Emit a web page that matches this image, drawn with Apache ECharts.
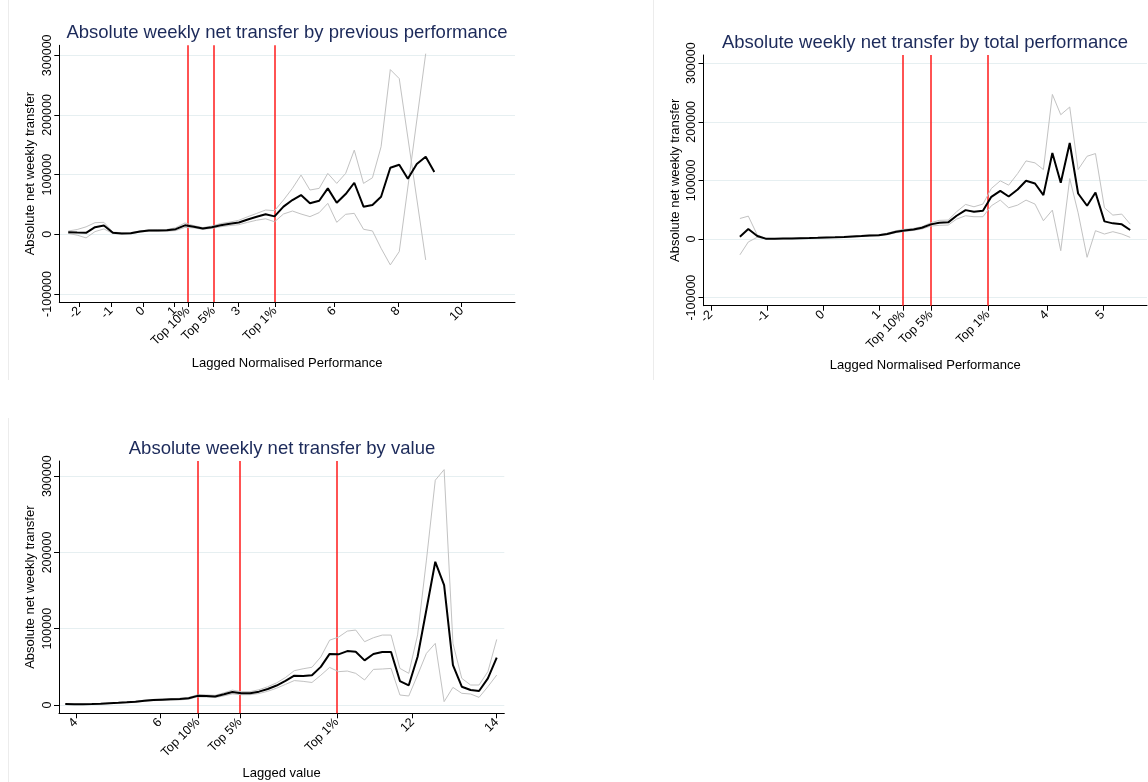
<!DOCTYPE html>
<html>
<head>
<meta charset="utf-8">
<script src="https://cdn.jsdelivr.net/npm/echarts@6/dist/echarts.min.js"></script>
<style>
  html, body { margin: 0; padding: 0; background: #ffffff; }
  #chart { width: 1148px; height: 782px; }
</style>
</head>
<body>
<div id="chart"></div>
<script>
// ---- Panel 1: by previous performance ----
const prevX = [-2.34, -2.06, -1.78, -1.50, -1.22, -0.94, -0.66, -0.38, -0.09, 0.19, 0.47, 0.75, 1.03, 1.32, 1.60, 1.88, 2.16, 2.44, 2.73, 3.01, 3.29, 3.57, 3.85, 4.13, 4.41, 4.69, 4.96, 5.24, 5.53, 5.80, 6.08, 6.36, 6.63, 6.92, 7.20, 7.47, 7.76, 8.04, 8.31, 8.59, 8.87, 9.14];
const prevMean = [3500, 2800, 2500, 11900, 14700, 2500, 1500, 1800, 4500, 6400, 6500, 6600, 8600, 15000, 12600, 9700, 11900, 15300, 17600, 19800, 24800, 29300, 33500, 30000, 46300, 57400, 65800, 51900, 56300, 77000, 53000, 67500, 86400, 46300, 49100, 63000, 111500, 116600, 93100, 117700, 130000, 104300];
const prevHi = [5500, 8000, 12500, 19500, 20000, 3800, 2500, 2800, 5500, 7500, 7800, 8000, 11000, 19000, 14500, 11200, 13800, 18000, 20500, 23500, 29500, 35000, 40700, 39600, 57400, 77000, 99300, 74200, 77000, 102100, 85300, 102100, 141100, 85300, 94800, 146700, 276100, 261000, null, null, -43000, null];
const prevLo = [1500, -1500, -6000, 4500, 9000, 1300, 600, 900, 3500, 5300, 5200, 5200, 6200, 11500, 10700, 8200, 10000, 12600, 14700, 16100, 20100, 23600, 26000, 21000, 34000, 39000, 34000, 29600, 36300, 51900, 20100, 33500, 35100, 8400, 5600, -23400, -51300, -29000, null, null, 302800, null];
const prevTicks = [-2, -1, 0, 1, 3, 6, 8, 10];
const prevCuts = [1.41, 2.21, 4.14];

// ---- Panel 2: by total performance ----
const totX = [-1.48, -1.33, -1.17, -1.02, -0.86, -0.71, -0.55, -0.40, -0.24, -0.09, 0.07, 0.22, 0.38, 0.53, 0.69, 0.84, 1.00, 1.15, 1.31, 1.46, 1.62, 1.77, 1.93, 2.08, 2.24, 2.39, 2.55, 2.70, 2.86, 3.01, 3.17, 3.32, 3.48, 3.63, 3.79, 3.94, 4.10, 4.25, 4.41, 4.56, 4.72, 4.87, 5.03, 5.18, 5.34, 5.49];
const totMean = [4000, 17000, 5100, 600, 400, 700, 1000, 1500, 1800, 2200, 2700, 3000, 3400, 4200, 5000, 6000, 6600, 8500, 12500, 14700, 16400, 19300, 25000, 27800, 28400, 39700, 49300, 46500, 48200, 72000, 82200, 72600, 84500, 99300, 94700, 74900, 146900, 95900, 163900, 77700, 56700, 79400, 30100, 26700, 25000, 15300];
const totHi = [35000, 39000, 7000, 1000, 700, 1000, 1300, 1800, 2100, 2600, 3100, 3400, 3900, 4800, 5700, 6900, 7600, 9800, 14200, 16400, 18100, 21000, 27800, 31800, 32300, 46500, 59000, 55000, 59600, 86200, 99300, 91900, 111700, 133300, 129900, 118500, 246700, 212100, 225200, 118500, 141200, 145800, 53300, 40800, 42500, 25500];
const totLo = [-27000, -5000, 3000, 200, 100, 400, 700, 1200, 1500, 1800, 2300, 2600, 2900, 3600, 4300, 5100, 5600, 7200, 10800, 13000, 14700, 17000, 22100, 23300, 23800, 34000, 39700, 38000, 38000, 56700, 66400, 53300, 57900, 66400, 59600, 31200, 49300, -19900, 103200, 44800, -31200, 14200, 8500, 12500, 8500, 2800];
const totTicks = [-2, -1, 0, 1, 4, 5];
const totCuts = [1.43, 1.93, 2.95];

// ---- Panel 3: by value ----
const valX = [3.75, 3.96, 4.17, 4.38, 4.59, 4.80, 5.01, 5.21, 5.42, 5.63, 5.84, 6.05, 6.26, 6.47, 6.68, 6.89, 7.10, 7.31, 7.52, 7.72, 7.93, 8.14, 8.35, 8.56, 8.77, 8.98, 9.19, 9.40, 9.61, 9.82, 10.03, 10.24, 10.45, 10.65, 10.86, 11.07, 11.28, 11.49, 11.70, 11.91, 12.12, 12.33, 12.54, 12.75, 12.96, 13.17, 13.38, 13.58, 13.79, 14.00];
const valMean = [1300, 1100, 1000, 1200, 1600, 2200, 2800, 3500, 4400, 5600, 6500, 7000, 7400, 7700, 8800, 12000, 11800, 11200, 14000, 17000, 15500, 15500, 17500, 21000, 25500, 31500, 38500, 38000, 39000, 50000, 67000, 66400, 70700, 69900, 58500, 66800, 69400, 69400, 31400, 25800, 63300, 125300, 187800, 157200, 52400, 24000, 19700, 18300, 34900, 62000];
const valHi = [1600, 1400, 1300, 1500, 1900, 2500, 3200, 4000, 5000, 6300, 7300, 7900, 8300, 8700, 10000, 13300, 13200, 12700, 16000, 19500, 17500, 17500, 20000, 24000, 29000, 36000, 45000, 47500, 49500, 63000, 85000, 89000, 96900, 98300, 83000, 88200, 91700, 91700, 48000, 41500, 92000, 190000, 294800, 308700, 80800, 34900, 26200, 26200, 43700, 86000];
const valLo = [1000, 800, 700, 900, 1300, 1900, 2400, 3000, 3800, 4900, 5700, 6100, 6500, 6700, 7600, 10700, 10400, 9700, 12000, 14500, 13500, 13500, 15000, 18000, 22000, 27000, 32000, 31000, 29500, 39000, 49300, 43700, 44500, 41500, 32800, 46700, 47200, 48000, 13100, 11800, 39300, 67700, 80800, 4400, 23100, 15300, 14400, 10000, 24000, 39300];
const valTicks = [4, 6, 12, 14];
const valCuts = [6.90, 7.90, 10.20];

// ---- Shared labels ----
const cutLabels = ['Top 10%', 'Top 5%', 'Top 1%'];
const yTicksFull = [-100000, 0, 100000, 200000, 300000];
const yTicksPos = [0, 100000, 200000, 300000];
const yName = 'Absolute net weekly transfer';

const FONT = '"Liberation Sans", Arial, Helvetica, sans-serif';
const TITLE_COLOR = '#1c2a5a';
const GRID_COLOR = '#e6eff1';
const CI_COLOR = '#c2c2c2';
const CUT_COLOR = '#ff1a1a';
const FRAME_COLOR = '#ececec';

// Panel layout: plot boxes in pixels, axis ranges, title anchors, outer frame edge
const panels = [
  {
    title: 'Absolute weekly net transfer by previous performance',
    xName: 'Lagged Normalised Performance',
    x: prevX, mean: prevMean, hi: prevHi, lo: prevLo, ticks: prevTicks, cuts: prevCuts, yTicks: yTicksFull,
    box: { left: 59.3, top: 45.3, width: 455.7, height: 256.7 },
    xMin: -2.62, xMax: 11.67, yMin: -113500, yMax: 316800,
    titleX: 287, titleY: 32.3, yGap: 22, xGap: 55,
    frame: { x: 8.5, y1: 0, y2: 380 }
  },
  {
    title: 'Absolute weekly net transfer by total performance',
    xName: 'Lagged Normalised Performance',
    x: totX, mean: totMean, hi: totHi, lo: totLo, ticks: totTicks, cuts: totCuts, yTicks: yTicksFull,
    box: { left: 703.5, top: 55, width: 443.5, height: 250.7 },
    xMin: -2.13, xMax: 5.79, yMin: -113800, yMax: 314000,
    titleX: 925, titleY: 42.7, yGap: 21.5, xGap: 53.5,
    frame: { x: 653.5, y1: 0, y2: 380 }
  },
  {
    title: 'Absolute weekly net transfer by value',
    xName: 'Lagged value',
    x: valX, mean: valMean, hi: valHi, lo: valLo, ticks: valTicks, cuts: valCuts, yTicks: yTicksPos,
    box: { left: 59, top: 461, width: 445.3, height: 252.3 },
    xMin: 3.60, xMax: 14.18, yMin: -10900, yMax: 320000,
    titleX: 282, titleY: 448, yGap: 22.5, xGap: 53.5,
    frame: { x: 8.5, y1: 418, y2: 782 }
  }
];

const pairs = (xs, ys) => xs.map((v, i) => [v, ys[i]]);

const option = {
  animation: false,
  backgroundColor: '#ffffff',
  textStyle: { fontFamily: FONT },
  title: [],
  grid: [],
  xAxis: [],
  yAxis: [],
  series: [],
  graphic: []
};

panels.forEach((p, i) => {
  // faint left edge of each sub-graph's canvas
  option.graphic.push({
    type: 'line', silent: true, z: -1,
    shape: { x1: p.frame.x, y1: p.frame.y1, x2: p.frame.x, y2: p.frame.y2 },
    style: { stroke: FRAME_COLOR, lineWidth: 1 }
  });

  option.title.push({
    text: p.title,
    left: p.titleX,
    top: p.titleY - 9,
    textAlign: 'center',
    padding: 0,
    textStyle: { fontFamily: FONT, fontSize: 18.5, fontWeight: 'normal', color: TITLE_COLOR }
  });

  option.grid.push({
    left: p.box.left, top: p.box.top, width: p.box.width, height: p.box.height,
    containLabel: false, show: false
  });

  const tickValues = p.ticks.concat(p.cuts).sort((a, b) => a - b);
  const cutLabelOf = (v) => {
    const k = p.cuts.findIndex(c => Math.abs(c - v) < 1e-9);
    return k >= 0 ? cutLabels[k] : String(v);
  };

  option.xAxis.push({
    type: 'value', gridIndex: i, min: p.xMin, max: p.xMax,
    name: p.xName, nameLocation: 'middle', nameGap: p.xGap,
    nameTextStyle: { fontFamily: FONT, fontSize: 13, color: '#000000' },
    axisLine: { show: true, onZero: false, lineStyle: { color: '#000000', width: 1 } },
    axisTick: { show: true, length: 5, lineStyle: { color: '#000000', width: 1 }, customValues: tickValues },
    axisLabel: {
      show: true, rotate: 45, margin: 7, fontFamily: FONT, fontSize: 12.5, color: '#000000',
      customValues: tickValues, formatter: cutLabelOf
    },
    splitLine: { show: false }
  });

  option.yAxis.push({
    type: 'value', gridIndex: i, min: p.yMin, max: p.yMax,
    name: yName, nameLocation: 'middle', nameGap: p.yGap, nameRotate: 90,
    nameTextStyle: { fontFamily: FONT, fontSize: 13, color: '#000000' },
    axisLine: { show: true, onZero: false, lineStyle: { color: '#000000', width: 1 } },
    axisTick: { show: true, length: 5, lineStyle: { color: '#000000', width: 1 }, customValues: p.yTicks },
    axisLabel: {
      show: true, rotate: 90, margin: 5, fontFamily: FONT, fontSize: 12.5, color: '#000000',
      customValues: p.yTicks, formatter: (v) => String(v)
    },
    splitLine: { show: false }
  });

  // lower band edge, carries the horizontal gridlines
  option.series.push({
    type: 'line', xAxisIndex: i, yAxisIndex: i, data: pairs(p.x, p.lo),
    symbol: 'none', connectNulls: true, z: 2, silent: true,
    lineStyle: { color: CI_COLOR, width: 1 },
    markLine: {
      z: 0, silent: true, symbol: ['none', 'none'], label: { show: false },
      lineStyle: { color: GRID_COLOR, width: 1, type: 'solid' },
      emphasis: { disabled: true },
      data: p.yTicks.map(v => ({ yAxis: v }))
    }
  });

  // upper band edge, carries the percentile cut-off lines
  option.series.push({
    type: 'line', xAxisIndex: i, yAxisIndex: i, data: pairs(p.x, p.hi),
    symbol: 'none', connectNulls: true, z: 2, silent: true,
    lineStyle: { color: CI_COLOR, width: 1 },
    markLine: {
      z: 1, silent: true, symbol: ['none', 'none'], label: { show: false },
      lineStyle: { color: CUT_COLOR, width: 1.5, type: 'solid' },
      emphasis: { disabled: true },
      data: p.cuts.map(v => ({ xAxis: v }))
    }
  });

  // mean transfer
  option.series.push({
    type: 'line', xAxisIndex: i, yAxisIndex: i, data: pairs(p.x, p.mean),
    symbol: 'none', z: 3, silent: true,
    lineStyle: { color: '#000000', width: 2 }
  });
});

const chart = echarts.init(document.getElementById('chart'), null, { renderer: 'canvas' });
chart.setOption(option);
</script>
</body>
</html>
